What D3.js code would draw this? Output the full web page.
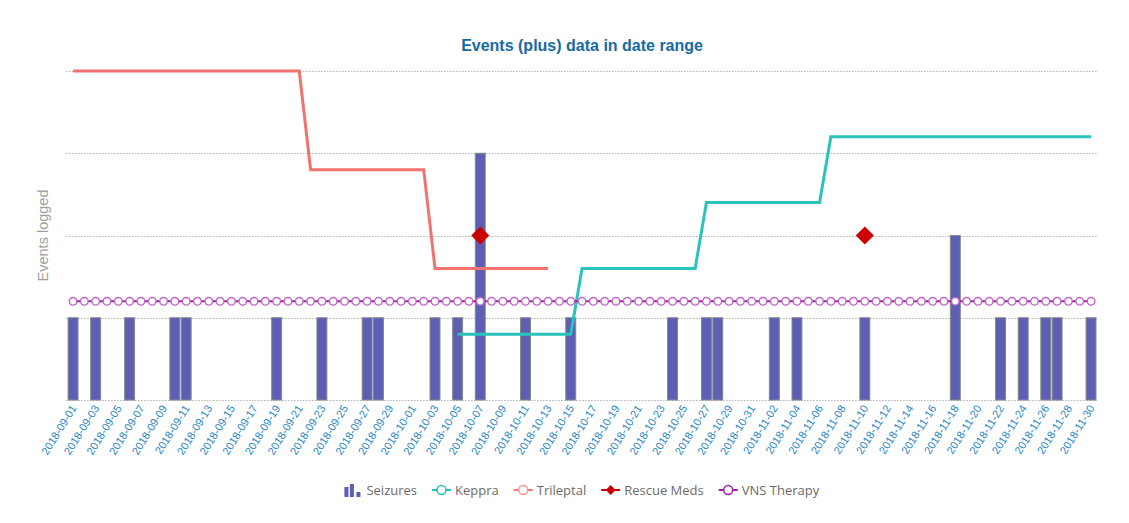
<!DOCTYPE html>
<html>
<head>
<meta charset="utf-8">
<script src="https://cdn.jsdelivr.net/npm/d3@7"></script>
<style>
  body { margin: 0; background: #fff; }
  svg { display: block; }
</style>
</head>
<body>
<div id="chart"></div>
<script>
// Categories: one per day
const dates = [
  '2018-09-01','2018-09-02','2018-09-03','2018-09-04','2018-09-05','2018-09-06','2018-09-07','2018-09-08','2018-09-09','2018-09-10',
  '2018-09-11','2018-09-12','2018-09-13','2018-09-14','2018-09-15','2018-09-16','2018-09-17','2018-09-18','2018-09-19','2018-09-20',
  '2018-09-21','2018-09-22','2018-09-23','2018-09-24','2018-09-25','2018-09-26','2018-09-27','2018-09-28','2018-09-29','2018-09-30',
  '2018-10-01','2018-10-02','2018-10-03','2018-10-04','2018-10-05','2018-10-06','2018-10-07','2018-10-08','2018-10-09','2018-10-10',
  '2018-10-11','2018-10-12','2018-10-13','2018-10-14','2018-10-15','2018-10-16','2018-10-17','2018-10-18','2018-10-19','2018-10-20',
  '2018-10-21','2018-10-22','2018-10-23','2018-10-24','2018-10-25','2018-10-26','2018-10-27','2018-10-28','2018-10-29','2018-10-30',
  '2018-10-31','2018-11-01','2018-11-02','2018-11-03','2018-11-04','2018-11-05','2018-11-06','2018-11-07','2018-11-08','2018-11-09',
  '2018-11-10','2018-11-11','2018-11-12','2018-11-13','2018-11-14','2018-11-15','2018-11-16','2018-11-17','2018-11-18','2018-11-19',
  '2018-11-20','2018-11-21','2018-11-22','2018-11-23','2018-11-24','2018-11-25','2018-11-26','2018-11-27','2018-11-28','2018-11-29',
  '2018-11-30'
];

// Seizures logged per day (only days with events)
const seizures = [
  ['2018-09-01', 1], ['2018-09-03', 1], ['2018-09-06', 1], ['2018-09-10', 1], ['2018-09-11', 1],
  ['2018-09-19', 1], ['2018-09-23', 1], ['2018-09-27', 1], ['2018-09-28', 1], ['2018-10-03', 1],
  ['2018-10-05', 1], ['2018-10-07', 3], ['2018-10-11', 1], ['2018-10-15', 1], ['2018-10-24', 1],
  ['2018-10-27', 1], ['2018-10-28', 1], ['2018-11-02', 1], ['2018-11-04', 1], ['2018-11-10', 1],
  ['2018-11-18', 2], ['2018-11-22', 1], ['2018-11-24', 1], ['2018-11-26', 1], ['2018-11-27', 1],
  ['2018-11-30', 1]
];

// Dose (mg) at the days where the dose level starts / ends
const keppra = [
  ['2018-10-05', 300], ['2018-10-15', 300], ['2018-10-16', 600], ['2018-10-26', 600],
  ['2018-10-27', 900], ['2018-11-06', 900], ['2018-11-07', 1200], ['2018-11-30', 1200]
];
const trileptal = [
  ['2018-09-01', 1500], ['2018-09-21', 1500], ['2018-09-22', 1050], ['2018-10-02', 1050],
  ['2018-10-03', 600], ['2018-10-13', 600]
];

// Rescue medication events
const rescueMeds = [['2018-10-07', 2], ['2018-11-10', 2]];

// VNS therapy level, one value per day
const vnsTherapy = [
  1.2, 1.2, 1.2, 1.2, 1.2, 1.2, 1.2, 1.2, 1.2, 1.2, 1.2, 1.2, 1.2,
  1.2, 1.2, 1.2, 1.2, 1.2, 1.2, 1.2, 1.2, 1.2, 1.2, 1.2, 1.2, 1.2,
  1.2, 1.2, 1.2, 1.2, 1.2, 1.2, 1.2, 1.2, 1.2, 1.2, 1.2, 1.2, 1.2,
  1.2, 1.2, 1.2, 1.2, 1.2, 1.2, 1.2, 1.2, 1.2, 1.2, 1.2, 1.2, 1.2,
  1.2, 1.2, 1.2, 1.2, 1.2, 1.2, 1.2, 1.2, 1.2, 1.2, 1.2, 1.2, 1.2,
  1.2, 1.2, 1.2, 1.2, 1.2, 1.2, 1.2, 1.2, 1.2, 1.2, 1.2, 1.2, 1.2,
  1.2, 1.2, 1.2, 1.2, 1.2, 1.2, 1.2, 1.2, 1.2, 1.2, 1.2, 1.2, 1.2
];

const yTicks = [0, 1, 2, 3, 4];
const legendItems = ['Seizures', 'Keppra', 'Trileptal', 'Rescue Meds', 'VNS Therapy'];

const COLORS = {
  seizures: '#5c5fb4',
  keppra: '#28c3bb',
  trileptal: '#f17370',
  rescue: '#cc0000',
  vns: '#9e1fa8',
  vnsMarker: '#c065c9'
};

const width = 1129, height = 523;
const plot = { left: 67.4, right: 1096.7, top: 71, bottom: 400 };

const svg = d3.select('#chart').append('svg')
  .attr('width', width)
  .attr('height', height);

const x = d3.scaleBand()
  .domain(dates)
  .range([plot.left, plot.right])
  .paddingInner(0.12)
  .paddingOuter(0.06);
const cx = d => x(d) + x.bandwidth() / 2;

const y = d3.scaleLinear().domain([0, 4]).range([plot.bottom, plot.top]);
const yDose = d3.scaleLinear().domain([0, 1500]).range([plot.bottom, plot.top]);

// Title
svg.append('text')
  .attr('x', (plot.left + plot.right) / 2)
  .attr('y', 51)
  .attr('text-anchor', 'middle')
  .style('font', "bold 16px 'Liberation Sans', Arial, sans-serif")
  .style('fill', '#156aa6')
  .text('Events (plus) data in date range');

// Grid lines
svg.append('g')
  .selectAll('line')
  .data(yTicks)
  .join('line')
  .attr('x1', plot.left - 1)
  .attr('x2', plot.right + 1)
  .attr('y1', d => Math.round(y(d)) + 0.5)
  .attr('y2', d => Math.round(y(d)) + 0.5)
  .attr('stroke', '#8a8a8a')
  .attr('stroke-dasharray', '1 2');

// Y axis title
svg.append('text')
  .attr('transform', `translate(48,${(plot.top + plot.bottom) / 2}) rotate(-90)`)
  .attr('text-anchor', 'middle')
  .style('font', "14.5px 'Liberation Sans', Arial, sans-serif")
  .style('fill', '#a0a0a0')
  .text('Events logged');

// X axis labels (every other day)
const xAxis = d3.axisBottom(x)
  .tickValues(dates.filter((d, i) => i % 2 === 0))
  .tickSize(0)
  .tickPadding(0);
const gx = svg.append('g')
  .attr('transform', `translate(0,${plot.bottom})`)
  .call(xAxis);
gx.select('.domain').remove();
gx.selectAll('text')
  .attr('y', 0)
  .attr('dy', 0)
  .attr('transform', 'translate(4,8) rotate(-58)')
  .attr('text-anchor', 'end')
  .style('font', "11px 'Liberation Sans', Arial, sans-serif")
  .style('fill', '#1f86c6');

// Seizure bars
svg.append('g')
  .selectAll('rect')
  .data(seizures)
  .join('rect')
  .attr('x', d => x(d[0]))
  .attr('width', x.bandwidth())
  .attr('y', d => y(d[1]))
  .attr('height', d => y(0) - y(d[1]))
  .attr('fill', COLORS.seizures)
  .attr('stroke', '#888')
  .attr('stroke-width', 1);

// Medication dose lines
const doseLine = d3.line().x(d => cx(d[0])).y(d => yDose(d[1]));
svg.append('path')
  .datum(trileptal)
  .attr('d', doseLine)
  .attr('fill', 'none')
  .attr('stroke', COLORS.trileptal)
  .attr('stroke-width', 3);
svg.append('path')
  .datum(keppra)
  .attr('d', doseLine)
  .attr('fill', 'none')
  .attr('stroke', COLORS.keppra)
  .attr('stroke-width', 3);

// VNS therapy line with markers
const vns = dates.map((d, i) => [d, vnsTherapy[i]]);
svg.append('path')
  .datum(vns)
  .attr('d', d3.line().x(d => cx(d[0])).y(d => y(d[1])))
  .attr('fill', 'none')
  .attr('stroke', COLORS.vns)
  .attr('stroke-width', 2);
svg.append('g')
  .selectAll('circle')
  .data(vns)
  .join('circle')
  .attr('cx', d => cx(d[0]))
  .attr('cy', d => y(d[1]))
  .attr('r', 3.8)
  .attr('fill', '#fff')
  .attr('stroke', COLORS.vnsMarker)
  .attr('stroke-width', 1.4);

// Rescue meds diamonds
svg.append('g')
  .selectAll('path')
  .data(rescueMeds)
  .join('path')
  .attr('d', d3.symbol(d3.symbolSquare, 165))
  .attr('transform', d => `translate(${cx(d[0])},${y(d[1])}) rotate(45)`)
  .attr('fill', COLORS.rescue);

// Legend
const legend = svg.append('g').attr('transform', 'translate(0,490)');
const legendFont = "13px 'Open Sans', sans-serif";
const items = legend.selectAll('g')
  .data(legendItems)
  .join('g');

items.each(function(name, i) {
  const g = d3.select(this);
  if (i === 0) {
    [[0, 10], [5.5, 13], [12, 5]].forEach(([bx, bh]) => {
      g.append('rect')
        .attr('x', bx).attr('y', 7 - bh)
        .attr('width', 4).attr('height', bh)
        .attr('fill', COLORS.seizures);
    });
  } else {
    const c = [null, COLORS.keppra, COLORS.trileptal, COLORS.rescue, COLORS.vns][i];
    g.append('line')
      .attr('x1', 0).attr('x2', 19)
      .attr('y1', 0).attr('y2', 0)
      .attr('stroke', c).attr('stroke-width', 2);
    if (i === 3) {
      g.append('path')
        .attr('d', d3.symbol(d3.symbolSquare, 50))
        .attr('transform', 'translate(9.5,0) rotate(45)')
        .attr('fill', c);
    } else {
      g.append('circle')
        .attr('cx', 9.5).attr('cy', 0).attr('r', 4.5)
        .attr('fill', '#fff')
        .attr('stroke', i === 2 ? '#f79592' : c)
        .attr('stroke-width', 1.5);
    }
  }
  g.append('text')
    .attr('x', i === 0 ? 22 : 23)
    .attr('y', 5)
    .style('font', legendFont)
    .style('fill', '#6b6b6b')
    .text(name);
});

// Lay out legend items centered
let widths = [];
items.each(function() { widths.push(this.getBBox().width); });
const gap = 15;
const total = d3.sum(widths) + gap * (widths.length - 1);
let pos = (plot.left + plot.right) / 2 - total / 2;
items.attr('transform', (d, i) => {
  const t = `translate(${pos},0)`;
  pos += widths[i] + gap;
  return t;
});
</script>
</body>
</html>
